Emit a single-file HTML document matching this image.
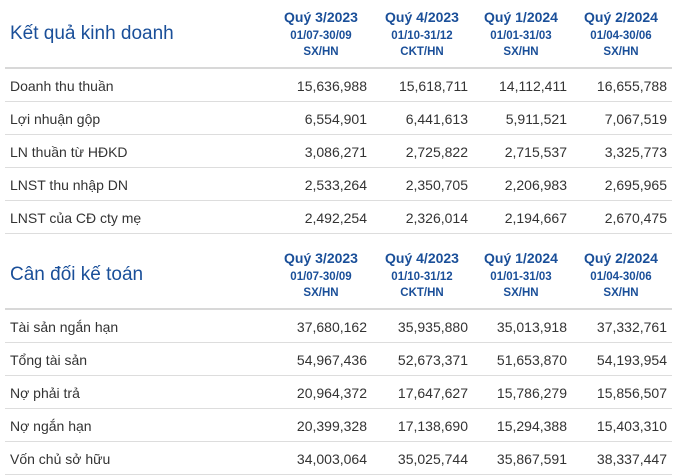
<!DOCTYPE html>
<html><head><meta charset="utf-8"><style>
body{margin:0;width:675px;height:475px;background:#fff;font-family:"Liberation Sans",Arial,sans-serif;position:relative;overflow:hidden}
.t{position:absolute;white-space:nowrap}
.title{left:10px;font-size:19px;color:#1a4f99}
.qh{width:100px;text-align:center;color:#1a4f99;font-weight:bold}
.q{font-size:14px}.d{font-size:11.5px}
.lab{left:10px;font-size:14px;color:#333}
.v{font-size:14px;color:#333;text-align:right;width:100px}
.ln{position:absolute;left:5px;width:667px;height:1px;background:#ddd}
.hl{height:2px;background:#d8d8d8}
</style></head><body>
<script>
const quarters=["Quý 3/2023","Quý 4/2023","Quý 1/2024","Quý 2/2024"];
const periods=["01/07-30/09","01/10-31/12","01/01-31/03","01/04-30/06"];
const audits=["SX/HN","CKT/HN","SX/HN","SX/HN"];
const kqLabels=["Doanh thu thuần","Lợi nhuận gộp","LN thuần từ HĐKD","LNST thu nhập DN","LNST của CĐ cty mẹ"];
const kqValues=[["15,636,988","15,618,711","14,112,411","16,655,788"],["6,554,901","6,441,613","5,911,521","7,067,519"],["3,086,271","2,725,822","2,715,537","3,325,773"],["2,533,264","2,350,705","2,206,983","2,695,965"],["2,492,254","2,326,014","2,194,667","2,670,475"]];
const cdLabels=["Tài sản ngắn hạn","Tổng tài sản","Nợ phải trả","Nợ ngắn hạn","Vốn chủ sở hữu"];
const cdValues=[["37,680,162","35,935,880","35,013,918","37,332,761"],["54,967,436","52,673,371","51,653,870","54,193,954"],["20,964,372","17,647,627","15,786,279","15,856,507"],["20,399,328","17,138,690","15,294,388","15,403,310"],["34,003,064","35,025,744","35,867,591","38,337,447"]];
const colRight=[367,468,567,667];
function mk(cls,txt,x,y,name){const e=document.createElement('div');e.className='t '+cls;e.textContent=txt;e.style.left=x+'px';e.style.top=y+'px';


document.body.appendChild(e);return e;}
function line(y,h,name){const e=document.createElement('div');e.className='ln'+(h?' hl':'');e.style.top=y+'px';


document.body.appendChild(e);}
function section(title,top,hdrH,labels,values,key){
 const off=top+(hdrH-67);
 mk('title',title,10,off+23,key+'-title');
 for(let i=0;i<4;i++){const x=colRight[i]-96;
  mk('qh q',quarters[i],x,off+9,key+'-quarter-header');
  mk('qh d',periods[i],x,off+30,key+'-period-header');
  mk('qh d',audits[i],x,off+46,key+'-audit-header');}
 const hb=top+hdrH;line(hb,true,key+'-header-border');
 for(let r=0;r<labels.length;r++){const y=hb+2+r*33;
  mk('lab',labels[r],10,y+9,key+'-row-label');
  for(let c=0;c<4;c++)mk('v',values[r][c],colRight[c]-100,y+9,key+'-cell');
  line(y+32,false,key+'-row-border');}
}
section("Kết quả kinh doanh",0,67,kqLabels,kqValues,'kqkd');
section("Cân đối kế toán",232,76,cdLabels,cdValues,'cdkt');
</script>
</body></html>
